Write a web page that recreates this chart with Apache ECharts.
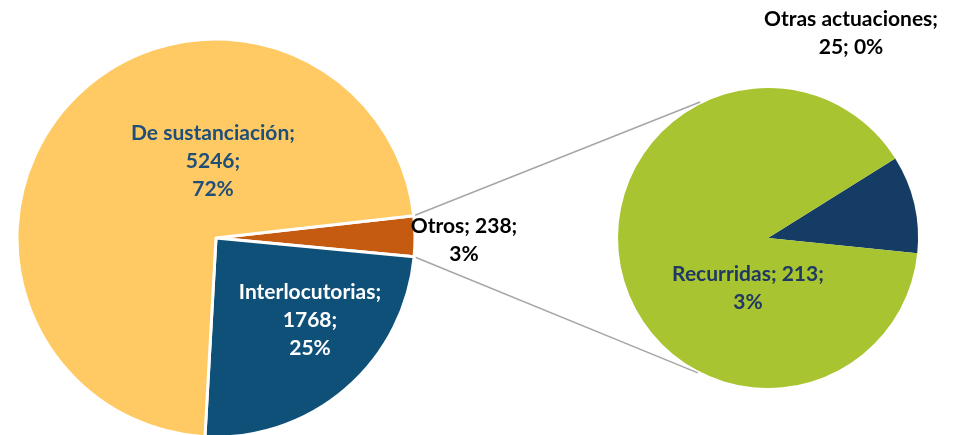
<!DOCTYPE html>
<html>
<head>
<meta charset="utf-8">
<script src="https://cdn.jsdelivr.net/npm/echarts@6/dist/echarts.min.js"></script>
<style>
  html, body { margin: 0; padding: 0; background: #fff; }
  #chart { width: 964px; height: 435px; }
</style>
</head>
<body>
<div id="chart"></div>
<script>
// datos
const mainNames = ['Otros', 'Interlocutorias', 'De sustanciación'];
const mainValues = [238, 1768, 5246];
const subNames = ['Otras actuaciones', 'Recurridas'];
const subValues = [25, 213];

const mainColors = ['#C55A11', '#0F5078', '#FFCA63'];
const subColors = ['#143C64', '#A8C430'];

// geometría (píxeles)
const mainCenter = [216, 238], mainR = 199, mainStart = 6.4;
const subCenter = [768, 238], subR = 150, subStart = 32;

const total = mainValues.reduce((a, b) => a + b, 0);
const pct = v => Math.round(v / total * 100) + '%';

// posiciones de etiquetas respecto al centro de cada tarta
const mainLabelPos = [[248, 2], [94, 82], [-3, -77]];
const subLabelPos = [[83, -205], [-20, 50]];
const mainLabelColor = ['#000000', '#ffffff', '#1F4E79'];
const subLabelColor = ['#000000', '#1F3864'];

const labelFont = {fontFamily: 'Lato', fontWeight: 'bold', fontSize: 21, lineHeight: 28};

const chart = echarts.init(document.getElementById('chart'));

// líneas de conexión entre las dos tartas
const otrosSpan = mainValues[0] / total * 360;
const rad = d => d * Math.PI / 180;
const a1 = rad(mainStart), a2 = rad(mainStart - otrosSpan);
const p = (c, r, a) => [c[0] + r * Math.cos(a), c[1] - r * Math.sin(a)];
const m1 = p(mainCenter, mainR, a1), m2 = p(mainCenter, mainR, a2);
const s1 = p(subCenter, subR + 2, rad(116.5)), s2 = p(subCenter, subR + 2, rad(-117.5));

const option = {
  animation: false,
  graphic: [
    {type: 'line', shape: {x1: m1[0], y1: m1[1], x2: s1[0], y2: s1[1]}, style: {stroke: '#A6A6A6', lineWidth: 1.5}, z: 0},
    {type: 'line', shape: {x1: m2[0], y1: m2[1], x2: s2[0], y2: s2[1]}, style: {stroke: '#A6A6A6', lineWidth: 1.5}, z: 0}
  ],
  series: [
    {
      type: 'pie',
      center: mainCenter,
      radius: mainR,
      startAngle: mainStart,
      clockwise: true,
      silent: true,
      percentPrecision: 0,
      itemStyle: {borderColor: '#fff', borderWidth: 3},
      label: {
        show: true,
        position: 'inside',
        ...labelFont,
        formatter: prm => prm.dataIndex === 0
          ? prm.name + '; ' + prm.value + ';\n' + prm.percent + '%'
          : prm.name + ';\n' + prm.value + ';\n' + prm.percent + '%'
      },
      labelLine: {show: false},
      labelLayout: prm => ({
        x: mainCenter[0] + mainLabelPos[prm.dataIndex][0],
        y: mainCenter[1] + mainLabelPos[prm.dataIndex][1],
        align: 'center',
        verticalAlign: 'middle'
      }),
      data: mainNames.map((n, i) => ({
        name: n, value: mainValues[i],
        itemStyle: {color: mainColors[i]},
        label: {color: mainLabelColor[i]}
      }))
    },
    {
      type: 'pie',
      center: subCenter,
      radius: subR,
      startAngle: subStart,
      clockwise: true,
      silent: true,
      itemStyle: {borderWidth: 0},
      label: {
        show: true,
        position: 'inside',
        ...labelFont,
        formatter: prm => prm.dataIndex === 0
          ? prm.name + ';\n' + prm.value + '; ' + pct(prm.value)
          : prm.name + '; ' + prm.value + ';\n' + pct(prm.value)
      },
      labelLine: {show: false},
      labelLayout: prm => ({
        x: subCenter[0] + subLabelPos[prm.dataIndex][0],
        y: subCenter[1] + subLabelPos[prm.dataIndex][1],
        align: 'center',
        verticalAlign: 'middle'
      }),
      data: subNames.map((n, i) => ({
        name: n, value: subValues[i],
        itemStyle: {color: subColors[i]},
        label: {color: subLabelColor[i]}
      }))
    }
  ]
};

chart.setOption(option);
</script>
</body>
</html>
